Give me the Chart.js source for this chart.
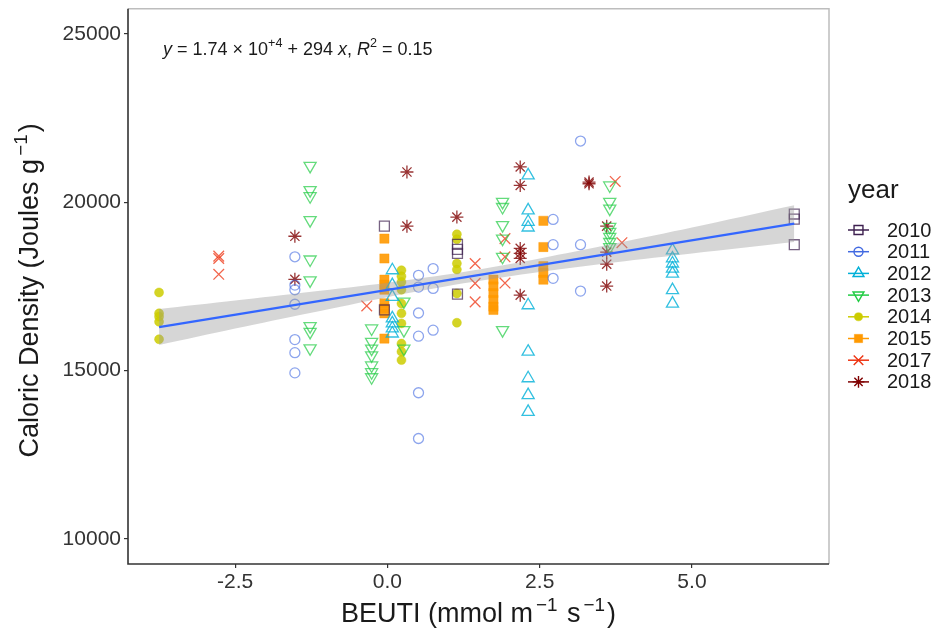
<!DOCTYPE html>
<html>
<head>
<meta charset="utf-8">
<script src="https://cdn.jsdelivr.net/npm/chart.js@4.4.1/dist/chart.umd.min.js"></script>
<style>
  html, body { margin: 0; padding: 0; background: #fff; }
  #chart { display: block; }
</style>
</head>
<body>
<canvas id="chart" width="938" height="631"></canvas>
<script>
// BEUTI (x) and caloric density (y) by year
const beuti2010 = [-0.05, -0.05, 1.15, 1.15, 1.15, 1.15, 6.68, 6.68, 6.68];
const cal2010   = [19290, 16800, 18750, 18600, 18480, 17270, 19650, 19500, 18740];

const beuti2011 = [-1.52, -1.52, -1.52, -1.52, -1.52, -1.52, -1.52, 0.51, 0.51, 0.51, 0.51, 0.51, 0.51, 0.75, 0.75, 0.75, 2.72, 2.72, 2.72, 3.17, 3.17, 3.17];
const cal2011   = [18380, 17540, 17400, 16970, 15920, 15530, 14930, 17830, 17480, 16710, 16020, 14340, 12980, 18030, 17440, 16200, 19490, 18740, 17740, 21820, 18740, 17360];

const beuti2012 = [0.08, 0.08, 0.08, 0.08, 0.08, 0.08, 0.08, 2.31, 2.31, 2.31, 2.31, 2.31, 2.31, 2.31, 2.31, 2.31, 4.68, 4.68, 4.68, 4.68, 4.68, 4.68, 4.68];
const cal2012   = [17980, 17540, 17190, 16550, 16400, 16250, 16100, 20800, 19760, 19420, 19250, 16940, 15560, 14770, 14270, 13770, 18570, 18330, 18180, 18030, 17880, 17390, 16990];

const beuti2013 = [-1.27, -1.27, -1.27, -1.27, -1.27, -1.27, -1.27, -1.27, -1.27, -0.26, -0.26, -0.26, -0.26, -0.26, -0.26, -0.26, 0.27, 0.27, 0.27, 1.89, 1.89, 1.89, 1.89, 1.89, 1.89, 3.65, 3.65, 3.65, 3.65, 3.65, 3.65, 3.65, 3.65];
const cal2013   = [21080, 20360, 20180, 19470, 18300, 17680, 16320, 16150, 15660, 16250, 15850, 15650, 15450, 15150, 14950, 14800, 17050, 16200, 15650, 20010, 19860, 19320, 18920, 18380, 16200, 20500, 20010, 19810, 19270, 19120, 18970, 18820, 18670];

const beuti2014 = [-3.75, -3.75, -3.75, -3.75, -3.75, 0.23, 0.23, 0.23, 0.23, 0.23, 0.23, 0.23, 0.23, 0.23, 0.23, 1.14, 1.14, 1.14, 1.14, 1.14, 1.14];
const cal2014   = [17320, 16700, 16600, 16450, 15930, 17980, 17800, 17630, 17400, 16990, 16700, 16400, 15800, 15560, 15310, 19050, 18900, 18180, 18000, 17290, 16420];

const beuti2015 = [-0.05, -0.05, -0.05, -0.05, -0.05, -0.05, -0.05, -0.05, -0.05, 1.74, 1.74, 1.74, 1.74, 1.74, 1.74, 2.56, 2.56, 2.56, 2.56, 2.56];
const cal2015   = [18920, 18330, 17700, 17550, 17400, 17000, 16850, 16700, 15950, 17700, 17500, 17300, 17100, 16900, 16800, 19450, 18670, 18100, 17900, 17700];

const beuti2017 = [-2.77, -2.77, -2.77, -0.34, 1.44, 1.44, 1.44, 1.93, 1.93, 1.93, 3.74, 3.85];
const cal2017   = [18400, 18330, 17860, 16920, 18180, 17590, 17040, 18920, 18380, 17600, 20620, 18800];

const beuti2018 = [-1.52, -1.52, 0.32, 0.32, 1.14, 2.18, 2.18, 2.18, 2.18, 2.18, 2.18, 3.31, 3.31, 3.6, 3.6, 3.6, 3.6];
const cal2018   = [18990, 17710, 20900, 19290, 19560, 21050, 20500, 18630, 18480, 18330, 17240, 20600, 20550, 19290, 18520, 18160, 17510];

// fitted line and its confidence band
const fitX = [-3.75, 6.68];
const fitY = [16290, 19365];
const bandX = [-3.75, -2.5, -1.25, 0, 1.25, 2.5, 3.75, 5, 6.68];
const bandUpper = [16830, 17080, 17340, 17610, 17930, 18330, 18780, 19250, 19910];
const bandLower = [15760, 16250, 16720, 17180, 17590, 17930, 18220, 18480, 18820];

const years = ["2010", "2011", "2012", "2013", "2014", "2015", "2017", "2018"];
const xTicks = [-2.5, 0, 2.5, 5];
const yTicks = [10000, 15000, 20000, 25000];

const FONT = "'Liberation Sans', Arial, sans-serif";

// symbol per year (ggplot shapes 0,1,2,6,16,15,4,8)
const styles = {
  "2010": { color: "61,31,79",  alpha: 0.7,  pointStyle: "rect",     radius: 7,   filled: false, rotation: 0 },
  "2011": { color: "65,105,225", alpha: 0.6, pointStyle: "circle",   radius: 5,   filled: false, rotation: 0 },
  "2012": { color: "0,176,216", alpha: 0.8,  pointStyle: "triangle", radius: 7,   filled: false, rotation: 0 },
  "2013": { color: "34,204,68", alpha: 0.7,  pointStyle: "triangle", radius: 7,   filled: false, rotation: 180 },
  "2014": { color: "204,204,0", alpha: 0.85, pointStyle: "circle",   radius: 4.5, filled: true,  rotation: 0 },
  "2015": { color: "255,153,0", alpha: 0.9,  pointStyle: "rect",     radius: 6.5, filled: true,  rotation: 0 },
  "2017": { color: "238,51,17", alpha: 0.75, pointStyle: "crossRot", radius: 7.5, filled: false, rotation: 0 },
  "2018": { color: "127,0,0",   alpha: 0.8,  pointStyle: "star",     radius: 6.5, filled: false, rotation: 0 }
};

const seriesX = { "2010": beuti2010, "2011": beuti2011, "2012": beuti2012, "2013": beuti2013, "2014": beuti2014, "2015": beuti2015, "2017": beuti2017, "2018": beuti2018 };
const seriesY = { "2010": cal2010, "2011": cal2011, "2012": cal2012, "2013": cal2013, "2014": cal2014, "2015": cal2015, "2017": cal2017, "2018": cal2018 };

function pairs(xs, ys) {
  return xs.map((x, i) => ({ x: x, y: ys[i] }));
}

const pointSets = years.map((yr, i) => {
  const s = styles[yr];
  const c = `rgba(${s.color},${s.alpha})`;
  return {
    label: yr,
    data: pairs(seriesX[yr], seriesY[yr]),
    pointStyle: s.pointStyle,
    rotation: s.rotation,
    pointRadius: s.radius,
    pointHoverRadius: s.radius,
    pointBorderColor: c,
    pointBackgroundColor: s.filled ? c : "rgba(0,0,0,0)",
    pointBorderWidth: s.filled ? 0.5 : 1.3,
    order: 10 + i
  };
});

const bandSets = [
  {
    type: "line",
    label: "upper",
    data: pairs(bandX, bandUpper),
    borderWidth: 0,
    pointRadius: 0,
    tension: 0.3,
    backgroundColor: "rgba(153,153,153,0.4)",
    fill: "+1",
    order: 2
  },
  {
    type: "line",
    label: "lower",
    data: pairs(bandX, bandLower),
    borderWidth: 0,
    pointRadius: 0,
    tension: 0.3,
    fill: false,
    order: 3
  },
  {
    type: "line",
    label: "fit",
    data: pairs(fitX, fitY),
    borderColor: "#3366FF",
    borderWidth: 2.2,
    pointRadius: 0,
    fill: false,
    order: 1
  }
];

// draw text with superscripts / italics
function richWidth(ctx, parts, size) {
  let w = 0;
  parts.forEach(p => {
    const fs = p.sup ? size * 0.7 : size;
    ctx.font = `${p.it ? "italic " : ""}${fs}px ${FONT}`;
    w += ctx.measureText(p.t).width + (p.gap || 0);
  });
  return w;
}

function drawRich(ctx, parts, x, y, size) {
  let cx = x;
  parts.forEach(p => {
    const fs = p.sup ? size * 0.7 : size;
    ctx.font = `${p.it ? "italic " : ""}${fs}px ${FONT}`;
    ctx.fillText(p.t, cx, p.sup ? y - size * 0.42 : y);
    cx += ctx.measureText(p.t).width + (p.gap || 0);
  });
}

const decor = {
  id: "decor",
  beforeDraw(chart) {
    const ctx = chart.ctx;
    ctx.save();
    ctx.fillStyle = "#fff";
    ctx.fillRect(0, 0, chart.width, chart.height);
    ctx.restore();
  },
  afterDraw(chart) {
    const ctx = chart.ctx;
    const a = chart.chartArea;
    ctx.save();

    // panel border: light top/right, dark left/bottom
    ctx.strokeStyle = "#BDBDBD";
    ctx.lineWidth = 1.5;
    ctx.beginPath();
    ctx.moveTo(a.left, a.top);
    ctx.lineTo(a.right, a.top);
    ctx.lineTo(a.right, a.bottom);
    ctx.stroke();
    ctx.strokeStyle = "#333";
    ctx.lineWidth = 1.6;
    ctx.beginPath();
    ctx.moveTo(a.left, a.top);
    ctx.lineTo(a.left, a.bottom);
    ctx.lineTo(a.right, a.bottom);
    ctx.stroke();

    ctx.fillStyle = "#1a1a1a";
    ctx.textBaseline = "alphabetic";
    ctx.textAlign = "left";

    // equation label
    const eq = [
      { t: "y", it: true }, { t: " = 1.74 \u00d7 10" }, { t: "+4", sup: true },
      { t: " + 294 " }, { t: "x", it: true }, { t: ", " }, { t: "R", it: true },
      { t: "2", sup: true }, { t: " = 0.15" }
    ];
    drawRich(ctx, eq, 163, 55, 18);

    // x axis title
    const xt = [{ t: "BEUTI (mmol m", gap: 3 }, { t: "\u22121", sup: true, gap: 2 }, { t: " s", gap: 3 }, { t: "\u22121", sup: true, gap: 2 }, { t: ")" }];
    const xw = richWidth(ctx, xt, 27);
    drawRich(ctx, xt, (a.left + a.right) / 2 - xw / 2, 622, 27);

    // y axis title
    const yt = [{ t: "Caloric Density (Joules g", gap: 3 }, { t: "\u22121", sup: true, gap: 2 }, { t: ")" }];
    const yw = richWidth(ctx, yt, 27);
    ctx.save();
    ctx.translate(38, (a.top + a.bottom) / 2 + yw / 2 + 4);
    ctx.rotate(-Math.PI / 2);
    drawRich(ctx, yt, 0, 0, 27);
    ctx.restore();

    // legend
    ctx.font = `26px ${FONT}`;
    ctx.fillText("year", 848, 198);
    ctx.font = `20px ${FONT}`;
    ctx.textBaseline = "middle";
    years.forEach((yr, i) => {
      const s = styles[yr];
      const cy = 230 + i * 21.7;
      const col = `rgb(${s.color})`;
      ctx.strokeStyle = col;
      ctx.lineWidth = 1.5;
      ctx.beginPath();
      ctx.moveTo(848, cy);
      ctx.lineTo(869, cy);
      ctx.stroke();
      ctx.fillStyle = s.filled ? col : "rgba(0,0,0,0)";
      ctx.lineWidth = s.filled ? 0.5 : 1.4;
      Chart.helpers.drawPoint(ctx, {
        pointStyle: s.pointStyle,
        rotation: s.rotation,
        radius: s.radius * 0.9,
        borderWidth: ctx.lineWidth
      }, 858.5, cy);
      ctx.fillStyle = "#1a1a1a";
      ctx.fillText(yr, 887, cy + 1);
    });

    ctx.restore();
  }
};

const chart = new Chart(document.getElementById("chart"), {
  type: "scatter",
  data: { datasets: pointSets.concat(bandSets) },
  options: {
    responsive: false,
    animation: false,
    layout: { padding: { left: 0, right: 109, top: 8, bottom: 0 } },
    plugins: {
      legend: { display: false },
      tooltip: { enabled: false },
      filler: { propagate: false }
    },
    scales: {
      x: {
        type: "linear",
        min: -4.26,
        max: 7.25,
        afterBuildTicks: axis => { axis.ticks = xTicks.map(v => ({ value: v })); },
        afterFit: axis => { axis.height = 67; axis.paddingLeft = 0; axis.paddingRight = 0; },
        ticks: {
          color: "#333",
          font: { family: FONT, size: 21 },
          padding: 2,
          maxRotation: 0,
          callback: v => v.toFixed(1)
        },
        grid: { drawOnChartArea: false, drawTicks: true, tickLength: 4, color: "#333", lineWidth: 1.2 },
        border: { display: false }
      },
      y: {
        type: "linear",
        min: 9250,
        max: 25750,
        afterBuildTicks: axis => { axis.ticks = yTicks.map(v => ({ value: v })); },
        afterFit: axis => { axis.width = 128; axis.paddingTop = 0; axis.paddingBottom = 0; },
        ticks: {
          color: "#333",
          font: { family: FONT, size: 21 },
          padding: 3,
          callback: v => String(v)
        },
        grid: { drawOnChartArea: false, drawTicks: true, tickLength: 4, color: "#333", lineWidth: 1.2 },
        border: { display: false }
      }
    }
  },
  plugins: [decor]
});
</script>
</body>
</html>
